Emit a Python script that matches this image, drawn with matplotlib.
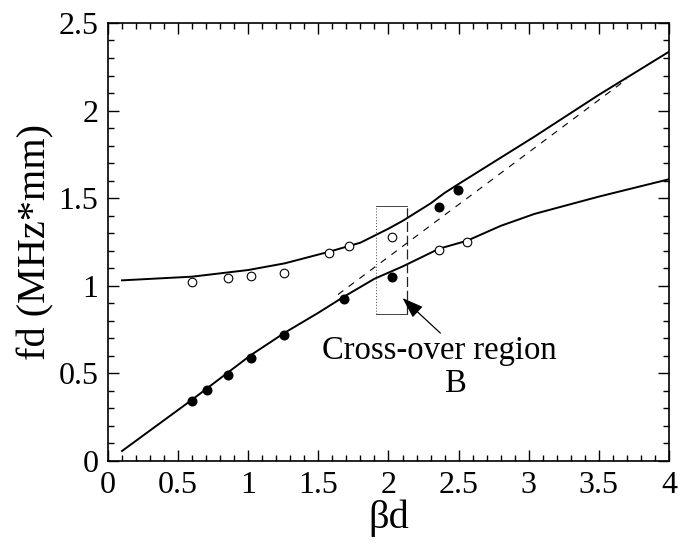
import matplotlib
matplotlib.use("Agg")
import matplotlib.pyplot as plt
from matplotlib.ticker import MultipleLocator

plt.rcParams['font.family'] = ['Liberation Serif', 'DejaVu Serif']

# Data
upper_x = [0.1, 0.6, 1.0, 1.26, 1.58, 1.8, 2.0, 2.1, 2.2, 2.3, 2.4, 2.5, 3.04, 3.5, 3.73, 4.0]
upper_y = [1.031, 1.052, 1.09, 1.128, 1.195, 1.246, 1.326, 1.37, 1.42, 1.47, 1.53, 1.581, 1.851, 2.09, 2.203, 2.336]
lower_x = [0.1, 0.6, 1.02, 1.26, 1.5, 1.683, 1.9, 2.1, 2.362, 2.56, 2.8, 3.04, 3.5, 4.0]
lower_y = [0.057, 0.35, 0.605, 0.732, 0.846, 0.938, 1.04, 1.11, 1.212, 1.257, 1.342, 1.41, 1.509, 1.608]
dashed_x = [1.64, 3.70]
dashed_y = [0.95, 2.18]

filled_x = [0.598, 0.705, 0.857, 1.021, 1.257, 1.683, 2.026, 2.362, 2.495]
filled_y = [0.344, 0.405, 0.49, 0.587, 0.717, 0.923, 1.048, 1.448, 1.547]
open_x = [0.598, 0.857, 1.021, 1.257, 1.576, 1.719, 2.026, 2.362, 2.56]
open_y = [1.023, 1.045, 1.056, 1.073, 1.189, 1.229, 1.28, 1.206, 1.25]

crossover_box = [1.914, 2.134, 0.839, 1.457]  # x0, x1, y0, y1
arrow_tip = [2.10, 0.93]
arrow_tail = [2.37, 0.73]

fig = plt.figure(figsize=(6.8, 5.55), dpi=100)
ax = fig.add_axes([0.1588, 0.1694, 0.825, 0.7892])

ax.plot(upper_x, upper_y, color='black', lw=1.4)
ax.plot(lower_x, lower_y, color='black', lw=1.4)
ax.plot(dashed_x, dashed_y, color='black', lw=0.8, dashes=(6, 6))

ax.plot(filled_x, filled_y, 'o', color='black', ms=6.2, zorder=3)
ax.plot(open_x, open_y, 'o', mfc='white', mec='black', mew=0.8, ms=6.2, zorder=3)

x0, x1, y0, y1 = crossover_box
ax.plot([x0, x0], [y0, y1], color='#444444', lw=0.7, ls=(0, (1, 2)))
ax.plot([x0, x1], [y1, y1], color='#444444', lw=0.7)
ax.plot([x0, x1], [y0, y0], color='#444444', lw=0.7)
ax.plot([x1, x1], [y0, y1], color='#222222', lw=0.9, ls=(0, (8, 3)))

ax.annotate('', xy=arrow_tip, xytext=arrow_tail,
            arrowprops=dict(arrowstyle='-|>,head_length=1.3,head_width=0.45',
                            color='black', lw=0.9, shrinkA=0, shrinkB=0))

ax.text(2.364, 0.628, 'Cross-over region', fontsize=23.5, ha='center', va='center')
ax.text(2.48, 0.44, 'B', fontsize=23.5, ha='center', va='center')

ax.set_xlim(0, 4)
ax.set_ylim(0, 2.5)
ax.xaxis.set_minor_locator(MultipleLocator(0.1))
ax.yaxis.set_minor_locator(MultipleLocator(0.1))
ax.set_xticks([0, 0.5, 1, 1.5, 2, 2.5, 3, 3.5, 4])
ax.set_xticklabels(['0', '0.5', '1', '1.5', '2', '2.5', '3', '3.5', '4'])
ax.set_yticks([0, 0.5, 1, 1.5, 2, 2.5])
ax.set_yticklabels(['0', '0.5', '1', '1.5', '2', '2.5'])

ax.tick_params(which='both', direction='in', top=True, right=True, labelsize=23, width=1.0)
ax.tick_params(which='major', length=8, pad=7)
ax.tick_params(which='minor', length=4.5)
for s in ax.spines.values():
    s.set_linewidth(1.2)

ax.set_xlabel('βd', fontsize=29, labelpad=0)
ax.set_ylabel('fd (MHz*mm)', fontsize=29, labelpad=3)

fig.savefig('out.png', dpi=100)
